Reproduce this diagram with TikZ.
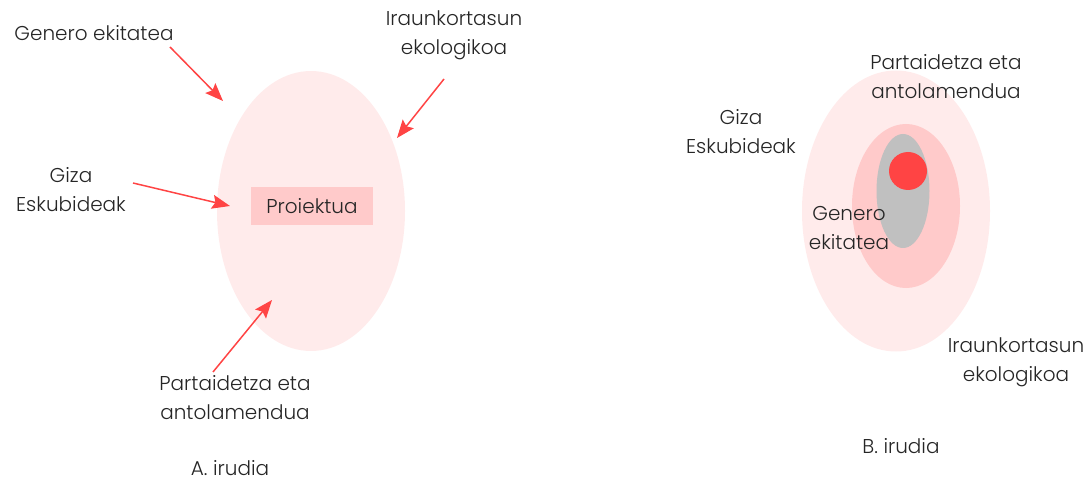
\documentclass[tikz,border=0pt]{standalone}
\usepackage{fontspec}
\setmainfont{Poppins Light}
\usetikzlibrary{arrows.meta,shapes.geometric}
\definecolor{pale}{HTML}{FFEBEB}
\definecolor{mid}{HTML}{FFCACA}
\definecolor{arr}{HTML}{FF4444}
\definecolor{txt}{HTML}{262626}
\definecolor{grey}{HTML}{C0C0C0}
\tikzset{
  lbl/.style={text=txt, font=\fontsize{20}{29}\selectfont, inner sep=0pt, align=center},
  arrowline/.style={draw=arr, line width=1.5pt, -{Stealth[length=18pt,width=14pt,inset=3pt]}},
  blob/.style={ellipse, inner sep=0pt, draw=none},
}
\begin{document}
\begin{tikzpicture}[x=1pt,y=-1pt]
\useasboundingbox (0,0) rectangle (1087,481);
% left figure
\node[blob, fill=pale, minimum width=188pt, minimum height=280pt] (eA) at (311,211) {};
\node[fill=mid, minimum width=122pt, minimum height=38pt, inner sep=0pt, text=txt, font=\fontsize{20}{24}\selectfont] (proj) at (312,206) {Proiektua};
\node[lbl] (gen) at (94,33) {Genero ekitatea};
\node[lbl] (irau) at (454,35) {Iraunkortasun\\ekologikoa};
\node[lbl] (giza) at (71,190) {Giza\\Eskubideak};
\node[lbl] (part) at (235,398) {Partaidetza eta\\antolamendua};
\node[lbl] (capA) at (230,468) {A. irudia};
\coordinate (g1) at (170,47); \coordinate (g2) at (223,101);
\coordinate (i1) at (444,79); \coordinate (i2) at (397,138);
\coordinate (z1) at (133,183); \coordinate (z2) at (230,206);
\coordinate (p1) at (213,372); \coordinate (p2) at (272,300);
\draw[arrowline] (g1) -- (g2);
\draw[arrowline] (i1) -- (i2);
\draw[arrowline] (z1) -- (z2);
\draw[arrowline] (p1) -- (p2);
% right figure
\node[blob, fill=pale, minimum width=188pt, minimum height=281pt] (eB1) at (896,211) {};
\node[blob, fill=mid, minimum width=108pt, minimum height=164pt] (eB2) at (906,206) {};
\node[blob, fill=grey, minimum width=53pt, minimum height=114pt] (eB3) at (903,191) {};
\node[circle, fill=arr, inner sep=0pt, minimum size=38pt] (dot) at (908,171) {};
\node[lbl] (partB) at (946,77) {Partaidetza eta\\antolamendua};
\node[lbl] (gizaB) at (741,132) {Giza\\Eskubideak};
\node[lbl] (genB) at (849,228) {Genero\\ekitatea};
\node[lbl] (irauB) at (1016,362) {Iraunkortasun\\ekologikoa};
\node[lbl] (capB) at (901,446) {B. irudia};
\end{tikzpicture}
\end{document}
